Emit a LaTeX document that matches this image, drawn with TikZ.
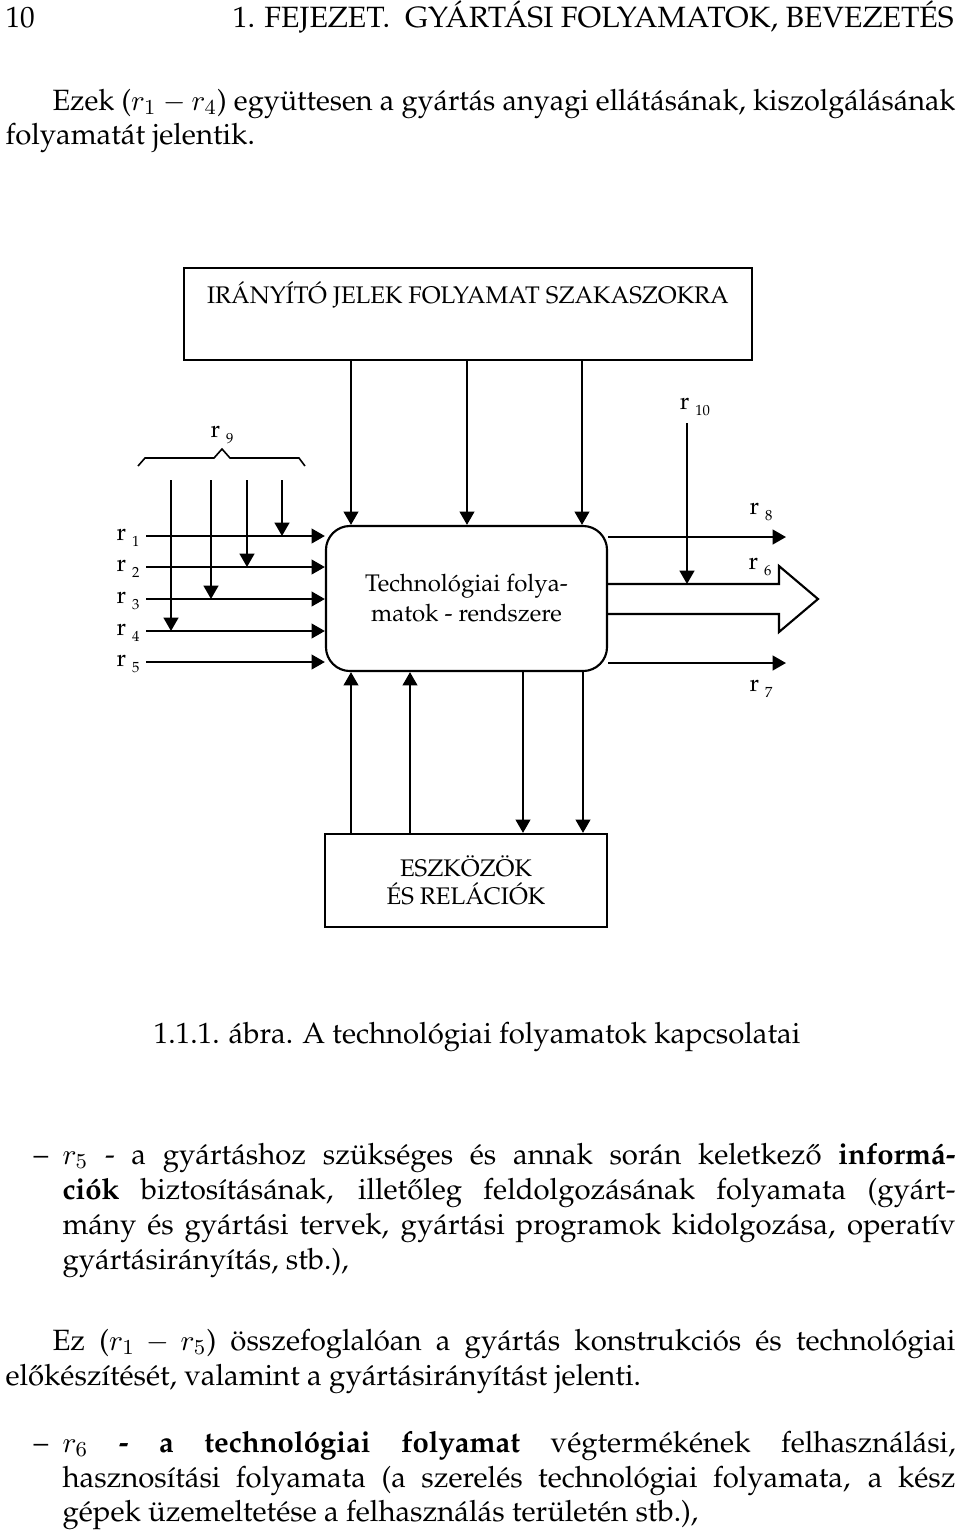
\documentclass[tikz,border=0pt]{standalone}
\usepackage[T1]{fontenc}
\usepackage{graphicx}
\renewcommand{\rmdefault}{ppl}
\usetikzlibrary{arrows.meta}

\newcommand{\rlab}[1]{r\hspace{2.2pt}\raisebox{-0.5ex}{\fontsize{5.5}{6}\selectfont #1}}
\newcommand{\jline}[2]{\makebox[#1][s]{#2}}
\newcommand{\wline}[2]{\resizebox{#1}{\height}{#2}}

\tikzset{
  arr/.style={-{Triangle[length=5pt,width=5.5pt]}, line width=0.8pt},
  box/.style={draw, line width=0.8pt, inner sep=0pt},
  lab/.style={inner sep=0pt, font=\fontsize{9}{10}\selectfont},
  txt/.style={inner sep=0pt, anchor=base west, font=\fontsize{11}{13}\selectfont},
}

\begin{document}
\begin{tikzpicture}[x=0.375pt, y=-0.375pt]
\useasboundingbox (0,0) rectangle (960,1530);

% fejlec
\node[txt] (pagenum) at (5,27) {10};
\node[txt] (head) at (232,27) {\wline{270.4pt}{1. FEJEZET.\enspace GYÁRTÁSI FOLYAMATOK, BEVEZETÉS}};

% szoveg az abra elott
\node[txt] (p1a) at (52,110) {\wline{338.6pt}{Ezek ($r_1 - r_4$) együttesen a gyártás anyagi ellátásának, kiszolgálásának}};
\node[txt] (p1b) at (5,144) {folyamatát jelentik.};

% blokkok
\node[box, minimum width=213pt, minimum height=34.5pt] (ctrl) at (468,314) {};
\node[lab, anchor=base] (ctrltxt) at (468,303) {IRÁNYÍTÓ JELEK FOLYAMAT SZAKASZOKRA};
\node[box, rounded corners=9pt, minimum width=105.4pt, minimum height=54.4pt,
      align=center, font=\fontsize{9}{11.25}\selectfont] (tech) at (466.5,598.5) {Technológiai folya-\\matok - rendszere};
\node[box, minimum width=105.75pt, minimum height=34.9pt,
      align=center, font=\fontsize{9}{10.5}\selectfont] (eszk) at (466,880.5) {ESZKÖZÖK\\ÉS RELÁCIÓK};

% felso nyilak
\foreach \x in {351,467,582}
  \draw[arr] (\x,0 |- ctrl.south) -- (\x,0 |- tech.north);

% bemenetek r1..r5
\foreach \y/\n in {536/1,567/2,599/3,631/4,662/5} {
  \node[lab] (r\n) at (128,\y+2) {\rlab{\n}};
  \coordinate (in\n) at (146,\y);
  \draw[arr] (in\n) -- (in\n -| tech.west);
}

% r9 nyilak
\foreach \x/\n in {171/4,211/3,247/2,282/1}
  \draw[arr] (\x,480) -- (\x,0 |- in\n);

% kapcsos zarojel
\draw[line width=0.6pt] (138,466) -- (145,458) -- (214,458) -- (222,449)
  -- (230,458) -- (299,458) -- (305,466);
\node[lab] (r9) at (222,435) {\rlab{9}};

% kimenetek
\node[lab] (r8) at (761,512) {\rlab{8}};
\node[lab] (r6) at (760,567) {\rlab{6}};
\node[lab] (r7) at (761,689) {\rlab{7}};
\node[lab] (r10) at (695,407) {\rlab{10}};
\coordinate (out8) at (786,537);
\coordinate (out7) at (786,663);
\draw[arr] (out8 -| tech.east) -- (out8);
\draw[arr] (out7 -| tech.east) -- (out7);
\draw[line width=0.8pt] (tech.east |- 0,584) -- (779,584) -- (779,566) -- (818,599)
  -- (779,632) -- (779,614) -- (tech.east |- 0,614);
\coordinate (top10) at (687,423);
\coordinate (hit10) at (687,584);
\draw[arr] (top10) -- (hit10);

% also nyilak
\foreach \x in {351,410}
  \draw[arr] (\x,0 |- eszk.north) -- (\x,0 |- tech.south);
\foreach \x in {523,583}
  \draw[arr] (\x,0 |- tech.south) -- (\x,0 |- eszk.north);

% abrafelirat
\node[txt, anchor=base] (capt) at (477,1043) {1.1.1. ábra. A technológiai folyamatok kapcsolatai};

% r5 pont
\node[txt] (dash5) at (33,1164) {--};
\node[txt] (i5a) at (62,1164) {\jline{334.9pt}{$r_5$ - a gyártáshoz szükséges és annak során keletkez\H{o} \textbf{informá-}}};
\node[txt] (i5b) at (62,1199) {\jline{334.9pt}{\textbf{ciók} biztosításának, illet\H{o}leg feldolgozásának folyamata (gyárt-}};
\node[txt] (i5c) at (62,1234) {\jline{334.9pt}{mány és gyártási tervek, gyártási programok kidolgozása, operatív}};
\node[txt] (i5d) at (62,1269) {gyártásirányítás, stb.),};

% osszefoglalas
\node[txt] (p2a) at (52,1350) {\jline{338.6pt}{Ez ($r_1 - r_5$) összefoglalóan a gyártás konstrukciós és technológiai}};
\node[txt] (p2b) at (5,1385) {el\H{o}készítését, valamint a gyártásirányítást jelenti.};

% r6 pont
\node[txt] (dash6) at (33,1452) {--};
\node[txt] (i6a) at (62,1452) {\jline{334.9pt}{$r_6$ \textbf{- a technológiai folyamat} végtermékének felhasználási,}};
\node[txt] (i6b) at (62,1487) {\jline{334.9pt}{hasznosítási folyamata (a szerelés technológiai folyamata, a kész}};
\node[txt] (i6c) at (62,1521) {gépek üzemeltetése a felhasználás területén stb.),};
\end{tikzpicture}
\end{document}
